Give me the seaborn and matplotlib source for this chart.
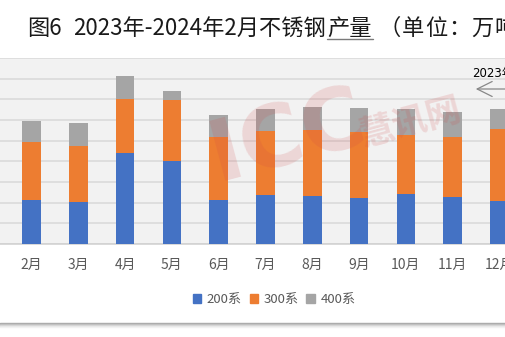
import matplotlib
matplotlib.use("Agg")
import matplotlib.pyplot as plt
import numpy as np
import pandas as pd
import seaborn as sns

# Monthly stainless steel output by grade (万吨)
months = ["2月", "3月", "4月", "5月", "6月", "7月", "8月", "9月", "10月", "11月", "12月"]
s200 = [85, 81, 176, 161, 85, 95, 93, 89, 97, 91, 83]
s300 = [113, 109, 104, 118, 122, 124, 128, 128, 114, 116, 140]
s400 = [41, 45, 45, 18, 43, 43, 45, 47, 51, 49, 39]
series_names = ["200系", "300系", "400系"]
colors = ["#4472C4", "#ED7D31", "#A5A5A5"]

sns.set_theme(style="white")
plt.rcParams["font.family"] = ["Noto Sans CJK SC", "DejaVu Sans"]

df = pd.DataFrame({"month": months, "s200": s200, "s300": s300, "s400": s400})
df["c300"] = df["s200"] + df["s300"]
df["c400"] = df["c300"] + df["s400"]

W, H = 505, 337
fig = plt.figure(figsize=(W / 100, H / 100), dpi=100)
fig.patch.set_facecolor("white")
ax = fig.add_axes([0, 1 - 244 / H, 1, (244 - 58) / H])
ax.set_facecolor("#F2F2F2")

# Stacked bars: draw cumulative totals from the top layer down
for col, c in [("c400", colors[2]), ("c300", colors[1]), ("s200", colors[0])]:
    sns.barplot(data=df, x="month", y=col, color=c, width=0.4,
                saturation=1, ax=ax, zorder=3, linewidth=0)

ax.set_ylim(0, 360)
ax.set_yticks(np.arange(0, 361, 40))
ax.set_xlim(-0.673, 10.117)
ax.yaxis.grid(True, color="#D9D9D9", linewidth=1.1, zorder=0)
ax.set_axisbelow(True)
ax.set_yticklabels([])
ax.tick_params(axis="y", length=0)
ax.tick_params(axis="x", length=0, pad=10, labelsize=10, labelcolor="#595959")
ax.set_xlabel("")
ax.set_ylabel("")
for side in ["left", "right", "top"]:
    ax.spines[side].set_visible(False)
ax.spines["bottom"].set_color("#D0D0D0")
ax.spines["bottom"].set_linewidth(1.1)

# Title, set piece by piece; "产量" is underlined
title_kw = dict(fontsize=16, color="#1a1a1a", va="baseline", ha="left")
base_y = 1 - 35 / H
fig.text(27 / W, base_y, "图6", **title_kw)
fig.text(73 / W, base_y, "2023年-2024年2月不锈钢", **title_kw)
fig.text(327 / W, base_y, "产量", **title_kw)
for i, ch in enumerate("（单位：万吨）"):
    fig.text((379 + 23 * i) / W, base_y, ch, **title_kw)
fig.add_artist(plt.Line2D([327 / W, 373 / W], [1 - 39 / H] * 2, color="#7a7a7a",
                          lw=1.0, transform=fig.transFigure))

# Period marker
fig.text(472 / W, 1 - 74 / H, "2023年", fontsize=8.5, color="black",
         va="center", ha="left", family=["DejaVu Sans", "Noto Sans CJK SC"])
ax.annotate("", xy=(473, H - 89), xycoords="figure pixels",
            xytext=(530, H - 89), textcoords="figure pixels",
            arrowprops=dict(arrowstyle="->,head_length=0.9,head_width=0.45",
                            color="#888888", lw=0.9),
            annotation_clip=False)

# Watermark
fig.text(287 / W, 1 - 138 / H, "ICC", fontsize=62, fontweight="bold",
         color="#D04848", alpha=0.17, rotation=15,
         ha="center", va="center", zorder=10, family="DejaVu Sans")
fig.text(410 / W, 1 - 122 / H, "慧讯网", fontsize=25, fontweight="bold",
         color="#D04848", alpha=0.17, rotation=15, ha="center", va="center",
         zorder=10)

# Legend
handles = [plt.Rectangle((0, 0), 1, 1, color=c) for c in colors]
fig.legend(handles, series_names, loc="center", bbox_to_anchor=(274 / W, 1 - 300 / H),
           ncol=3, frameon=False, fontsize=9.5, handlelength=0.65, handleheight=0.65,
           handletextpad=0.4, columnspacing=0.6, labelcolor="#595959")

# Panel bottom shadow
for i, g in enumerate(["#A8A8A8", "#BDBDBD", "#D3D3D3", "#E6E6E6", "#F2F2F2"]):
    y = 1 - (323 + i) / H
    fig.add_artist(plt.Line2D([0, 1], [y, y], color=g, lw=1.0, transform=fig.transFigure))

fig.savefig("out.png", dpi=100)
